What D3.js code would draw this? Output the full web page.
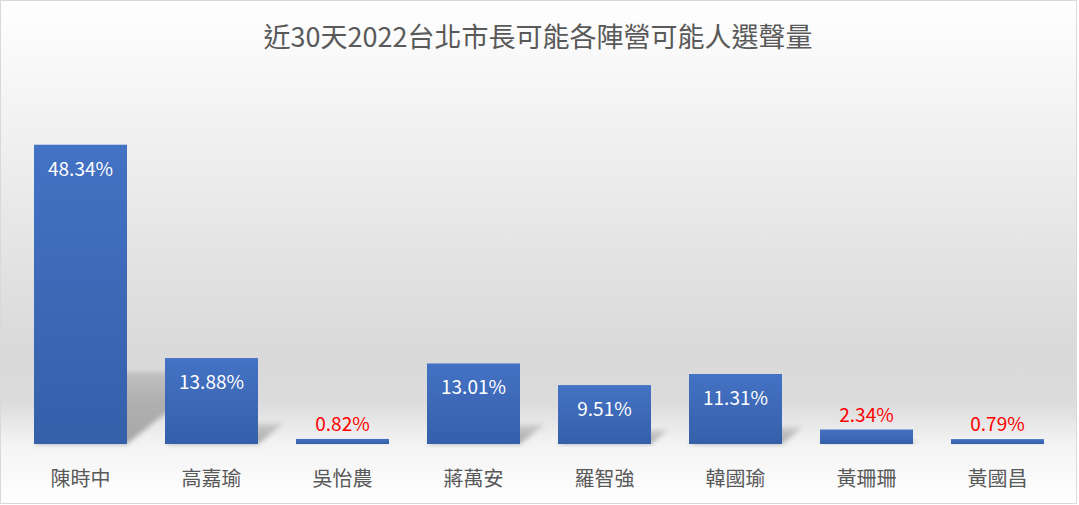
<!DOCTYPE html>
<html>
<head>
<meta charset="utf-8">
<script src="https://cdn.jsdelivr.net/npm/d3@7"></script>
<style>
  html, body { margin: 0; padding: 0; background: #fff; }
  svg { display: block; }
</style>
</head>
<body>
<div id="chart"></div>
<script>
// data
const title = "近30天2022台北市長可能各陣營可能人選聲量";
const candidates = ["陳時中", "高嘉瑜", "吳怡農", "蔣萬安", "羅智強", "韓國瑜", "黃珊珊", "黃國昌"];
const shares = [48.34, 13.88, 0.82, 13.01, 9.51, 11.31, 2.34, 0.79];

const W = 1079, H = 505;
const margin = { top: 75, right: 16, bottom: 61, left: 15 };
const width = W - margin.left - margin.right;
const height = H - margin.top - margin.bottom;
const font = "'Noto Sans CJK TC', 'Noto Sans', sans-serif";

const svg = d3.select("#chart")
  .append("svg")
  .attr("width", W)
  .attr("height", H);

const defs = svg.append("defs");

// background gradient (white -> gray -> white)
const bg = defs.append("linearGradient")
  .attr("id", "bg").attr("x1", 0).attr("y1", 0).attr("x2", 0).attr("y2", 1);
[[0, "#ffffff"], [0.7, "#d9d9d9"], [0.8, "#dcdcdc"], [0.88, "#f3f3f3"], [1, "#ffffff"]]
  .forEach(s => bg.append("stop").attr("offset", s[0]).attr("stop-color", s[1]));

// bar gradient
const barGrad = defs.append("linearGradient")
  .attr("id", "barGrad").attr("x1", 0).attr("y1", 0).attr("x2", 0).attr("y2", 1);
barGrad.append("stop").attr("offset", 0).attr("stop-color", "#4472c4");
barGrad.append("stop").attr("offset", 1).attr("stop-color", "#355fa9");

// shadow gradient + blur
const shGrad = defs.append("linearGradient")
  .attr("id", "shGrad").attr("x1", 0).attr("y1", 1).attr("x2", 0).attr("y2", 0);
shGrad.append("stop").attr("offset", 0).attr("stop-color", "#000").attr("stop-opacity", 0.32);
shGrad.append("stop").attr("offset", 1).attr("stop-color", "#000").attr("stop-opacity", 0.12);
defs.append("filter").attr("id", "blur")
  .attr("x", "-20%").attr("y", "-20%").attr("width", "140%").attr("height", "140%")
  .append("feGaussianBlur").attr("stdDeviation", 2.5);

svg.append("rect")
  .attr("x", 0.5).attr("y", 0.5)
  .attr("width", W - 3).attr("height", H - 2)
  .attr("fill", "url(#bg)")
  .attr("stroke", "#d9d9d9");

svg.append("text")
  .attr("x", 538)
  .attr("y", 47)
  .attr("text-anchor", "middle")
  .attr("font-family", font)
  .attr("font-size", 27)
  .attr("fill", "#595959")
  .text(title);

const g = svg.append("g")
  .attr("transform", `translate(${margin.left},${margin.top})`);

const x = d3.scaleBand()
  .domain(candidates)
  .range([0, width])
  .paddingInner(0.29)
  .paddingOuter(0.145);

const y = d3.scaleLinear()
  .domain([0, 59.6])
  .range([height, 0]);

const data = candidates.map((c, i) => ({ name: c, value: shares[i] }));

// perspective shadows
g.selectAll(".shadow")
  .data(data)
  .enter()
  .append("path")
  .attr("class", "shadow")
  .attr("d", d => {
    const x0 = x(d.name), x1 = x0 + x.bandwidth();
    const h = (height - y(d.value)) * 0.24;
    const s = h * 1.25;
    return `M${x0},${height}L${x1},${height}L${x1 + s},${height - h}L${x0 + s},${height - h}Z`;
  })
  .attr("fill", "url(#shGrad)")
  .attr("filter", "url(#blur)");

// bars
g.selectAll(".bar")
  .data(data)
  .enter()
  .append("rect")
  .attr("class", "bar")
  .attr("x", d => x(d.name))
  .attr("y", d => y(d.value))
  .attr("width", x.bandwidth())
  .attr("height", d => height - y(d.value))
  .attr("fill", "url(#barGrad)");

// value labels
g.selectAll(".val")
  .data(data)
  .enter()
  .append("text")
  .attr("class", "val")
  .attr("x", d => x(d.name) + x.bandwidth() / 2)
  .attr("y", d => d.value > 5 ? y(d.value) + 31 : y(d.value) - 8)
  .attr("text-anchor", "middle")
  .attr("font-family", font)
  .attr("font-size", 19)
  .attr("fill", d => d.value > 5 ? "#ffffff" : "#ff0000")
  .text(d => d.value.toFixed(2) + "%");

// category axis
const xAxis = g.append("g")
  .attr("transform", `translate(0,${height})`)
  .call(d3.axisBottom(x).tickSize(0).tickPadding(28));
xAxis.select(".domain").remove();
xAxis.selectAll("text")
  .attr("font-family", font)
  .attr("font-size", 20)
  .attr("fill", "#595959");
</script>
</body>
</html>
